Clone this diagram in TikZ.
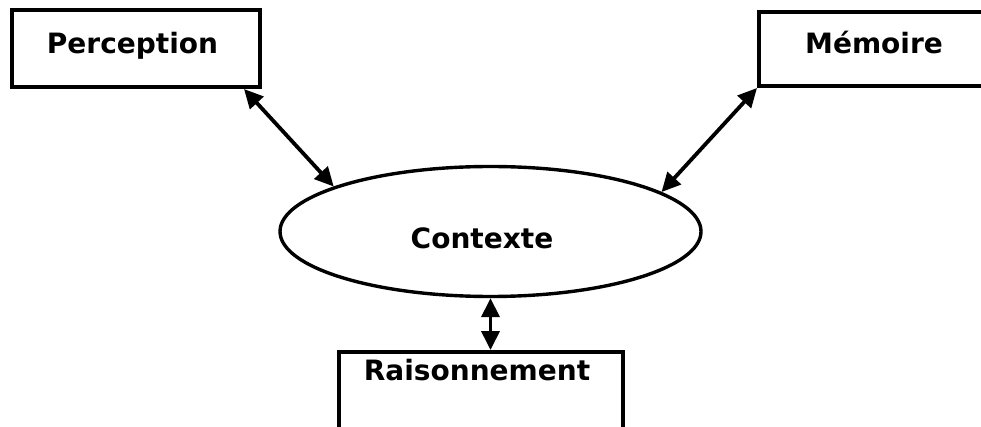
\documentclass[tikz,border=0pt]{standalone}
\usepackage{fontspec}
\setmainfont{DejaVu Sans}
\usetikzlibrary{arrows.meta,calc,shapes.geometric}
\begin{document}
\begin{tikzpicture}[x=1pt,y=-1pt,
  boxnode/.style={draw=black,line width=4pt,rectangle,inner sep=0pt},
  ellnode/.style={draw=black,line width=3.4pt,ellipse,inner sep=0pt},
  lbl/.style={anchor=base,inner sep=0pt,font=\fontsize{28}{34}\selectfont\bfseries},
  link/.style={line width=3.8pt,{Triangle[length=19pt,width=18pt]}-{Triangle[length=19pt,width=18pt]}}
]
\useasboundingbox[fill=white] (0,0) rectangle (981,427);
\node[boxnode,minimum width=248pt,minimum height=77pt] (perc) at (136,48.5) {};
\node[boxnode,minimum width=241pt,minimum height=74pt] (mem) at (879.5,49) {};
\node[boxnode,minimum width=284pt,minimum height=77pt] (rais) at (481,390.5) {};
\node[ellnode,minimum width=421pt,minimum height=130pt] (ctx) at (490.5,231.5) {};
\node[lbl] (tperc) at (132.5,54) {Perception};
\node[lbl] (tmem) at (874,54) {Mémoire};
\node[lbl] (tctx) at (482,249) {Contexte};
\node[lbl] (trais) at (477,380) {Raisonnement};
\coordinate (pa) at ($(perc.south east)+(-18,0)$);
\draw[link] (pa) -- (ctx.164);
\draw[link] (mem.south west) -- (ctx.13);
\draw[link] (ctx.south) -- (ctx.south |- rais.north);
\end{tikzpicture}
\end{document}
